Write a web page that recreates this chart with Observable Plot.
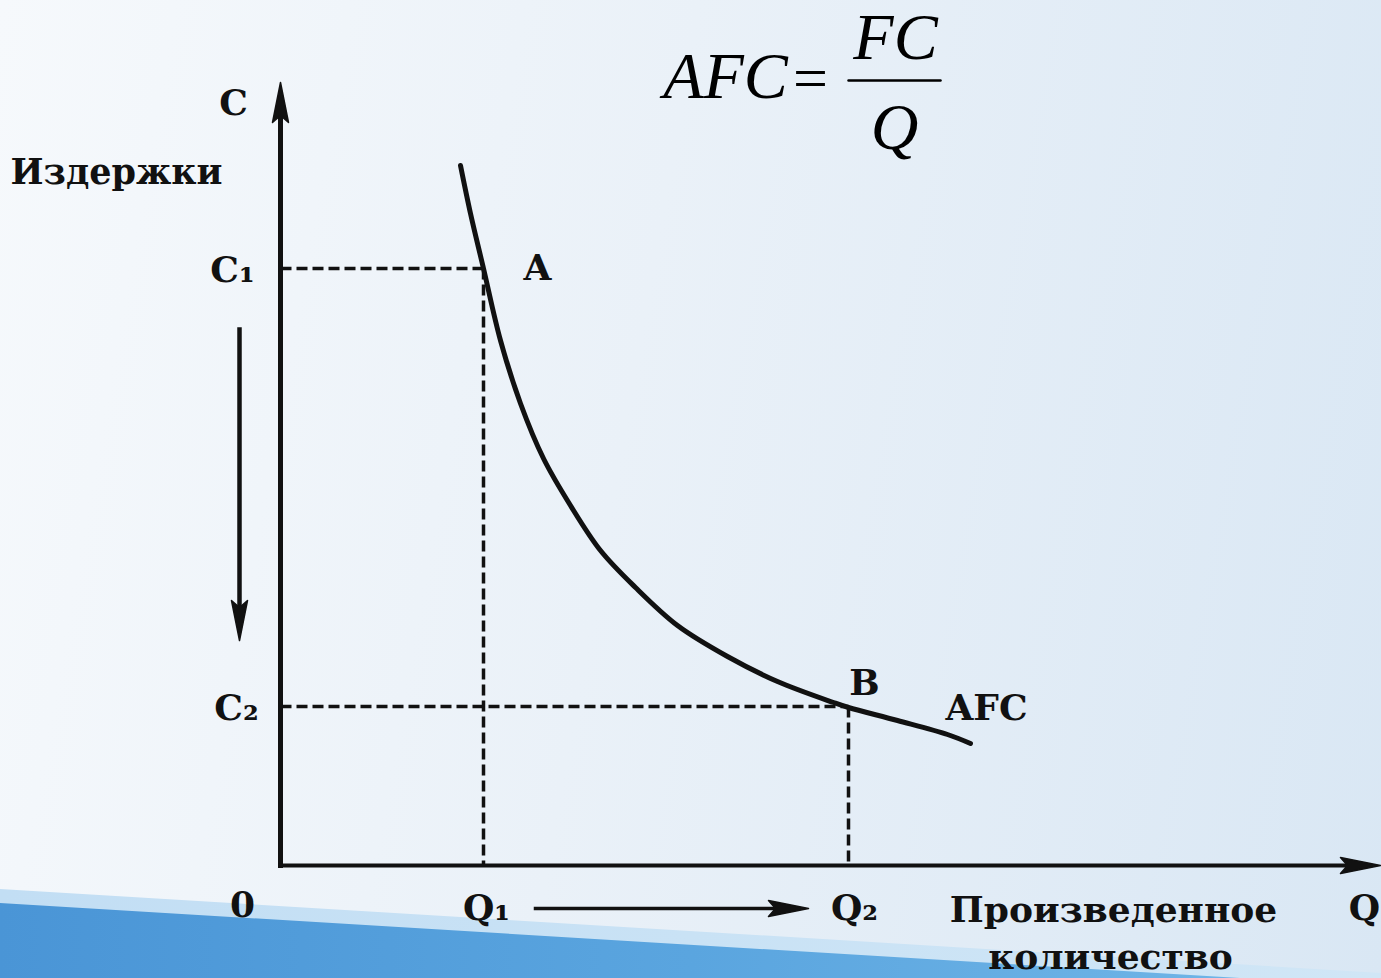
<!DOCTYPE html>
<html>
<head>
<meta charset="utf-8">
<script src="https://cdn.jsdelivr.net/npm/d3@7"></script>
<script src="https://cdn.jsdelivr.net/npm/@observablehq/plot@0.6"></script>
<style>
  html, body { margin: 0; padding: 0; width: 1381px; height: 978px; overflow: hidden; }
  body { background: linear-gradient(100deg, #f6f9fc 0%, #eaf1f8 45%, #d9e7f4 100%); position: relative; }
  #band-edge { position: absolute; left: 0; top: 0; width: 1381px; height: 978px;
    background: linear-gradient(90deg, #c2def4, #d0e6f6);
    clip-path: polygon(0 889px, 1381px 973px, 1381px 978px, 0 978px); }
  #band { position: absolute; left: 0; top: 0; width: 1381px; height: 978px;
    background: linear-gradient(90deg, #4a95d6 0%, #5aa5df 50%, #74b8e8 100%);
    clip-path: polygon(0 903px, 1240px 978px, 0 978px); }
  #chart { position: absolute; left: 0; top: 0; }
</style>
</head>
<body>
<div id="band-edge"></div>
<div id="band"></div>
<div id="chart"></div>
<script>
// AFC curve (Q, C)
const curveQ = [1.80, 1.90, 2.03, 2.20, 2.40, 2.63, 2.90, 3.20, 3.55, 3.97, 4.47, 4.97, 5.53, 5.68, 6.17, 6.67, 6.90];
const curveC = [7.00, 6.52, 5.97, 5.25, 4.62, 4.07, 3.60, 3.15, 2.78, 2.40, 2.09, 1.84, 1.63, 1.58, 1.45, 1.31, 1.22];

// Marked points A and B
const pointNames = ["A", "B"];
const pointQ = [2.03, 5.68];
const pointC = [5.97, 1.59];

// Arrows: start and tip
const arrowX1 = [0, 0, -0.41, 2.55];
const arrowY1 = [0, 0, 5.36, -0.43];
const arrowX2 = [0, 11.0, -0.41, 5.28];
const arrowY2 = [7.83, 0, 2.25, -0.43];
const arrowWidth = [5, 4, 4.5, 3.5];

// Labels
const labelText = ["C", "C\u2081", "C\u2082", "A", "B", "AFC", "0", "Q\u2081", "Q\u2082", "Произведенное", "количество", "Q"];
const labelX = [-0.47, -0.48, -0.44, 2.57, 5.84, 7.06, -0.38, 2.06, 5.74, 8.33, 8.30, 10.84];
const labelY = [7.62, 5.95, 1.57, 5.97, 1.82, 1.57, -0.40, -0.43, -0.43, -0.45, -0.92, -0.43];
const yTitle = "Издержки";
const yTitleX = -2.70;
const yTitleY = 6.93;

// Formula AFC = FC / Q
const formulaItalic = ["AFC", "FC", "Q"];
const formulaItalicX = [4.45, 6.15, 6.14];
const formulaItalicY = [7.89, 8.28, 7.38];
const formulaEq = "=";
const formulaEqX = 5.30;
const formulaEqY = 7.86;
const fractionX = [5.68, 6.60];
const fractionY = [7.85, 7.85];

const curve = curveQ.map((q, i) => ({q, c: curveC[i]}));
const points = pointNames.map((n, i) => ({n, q: pointQ[i], c: pointC[i]}));
const arrows = arrowX1.map((x1, i) => {
  const x2 = arrowX2[i], y2 = arrowY2[i];
  const dx = x2 - x1, dy = y2 - arrowY1[i], len = Math.hypot(dx, dy);
  return {x1, y1: arrowY1[i], x2, y2, w: arrowWidth[i],
    sx: x2 - dx / len * 0.2, sy: y2 - dy / len * 0.2,
    rot: Math.atan2(dx, dy) * 180 / Math.PI};
});
const labels = labelText.map((t, i) => ({t, x: labelX[i], y: labelY[i]}));
const formula = formulaItalic.map((t, i) => ({t, x: formulaItalicX[i], y: formulaItalicY[i]}));

// narrow filled arrowhead with the tip at the origin, pointing up
const headSymbol = {
  draw(context) {
    context.moveTo(0, 0);
    context.lineTo(8, 40);
    context.lineTo(0, 33);
    context.lineTo(-8, 40);
    context.closePath();
  }
};

const serif = "'DejaVu Serif', serif";
const times = "'Liberation Serif', 'Times New Roman', serif";

const chart = Plot.plot({
  width: 1381,
  height: 978,
  margin: 0,
  style: {background: "transparent"},
  x: {domain: [0, 11], range: [280, 1380], axis: null},
  y: {domain: [0, 7.8], range: [865, 85], axis: null},
  marks: [
    // dashed guides
    Plot.link(points, {x1: 0, y1: "c", x2: "q", y2: "c", stroke: "#111", strokeWidth: 3.5, strokeDasharray: "11,5"}),
    Plot.link(points, {x1: "q", y1: "c", x2: "q", y2: 0, stroke: "#111", strokeWidth: 3.5, strokeDasharray: "11,5"}),
    // axes & arrows
    Plot.link(arrows, {x1: "x1", y1: "y1", x2: "sx", y2: "sy", stroke: "#111", strokeWidth: "w", strokeLinecap: "square"}),
    Plot.dot(arrows, {x: "x2", y: "y2", rotate: "rot", symbol: headSymbol, r: 5, fill: "#111", stroke: "#111", strokeWidth: 1.5, strokeLinejoin: "round"}),
    // AFC curve
    Plot.line(curve, {x: "q", y: "c", curve: "catmull-rom", stroke: "#111", strokeWidth: 5}),
    // labels
    Plot.text(labels, {x: "x", y: "y", text: "t", fontFamily: serif, fontWeight: "bold", fontSize: 36, fill: "#111"}),
    Plot.text([yTitle], {x: yTitleX, y: yTitleY, text: d => d, textAnchor: "start", fontFamily: serif, fontWeight: "bold", fontSize: 35, fill: "#111"}),
    // formula
    Plot.text(formula, {x: "x", y: "y", text: "t", fontFamily: times, fontStyle: "italic", fontSize: 66, fill: "#000"}),
    Plot.text([formulaEq], {x: formulaEqX, y: formulaEqY, text: d => d, fontFamily: times, fontSize: 62, fill: "#000"}),
    Plot.line(fractionX.map((x, i) => ({x, y: fractionY[i]})), {x: "x", y: "y", stroke: "#000", strokeWidth: 2.5})
  ]
});
document.getElementById("chart").appendChild(chart);
</script>
</body>
</html>
